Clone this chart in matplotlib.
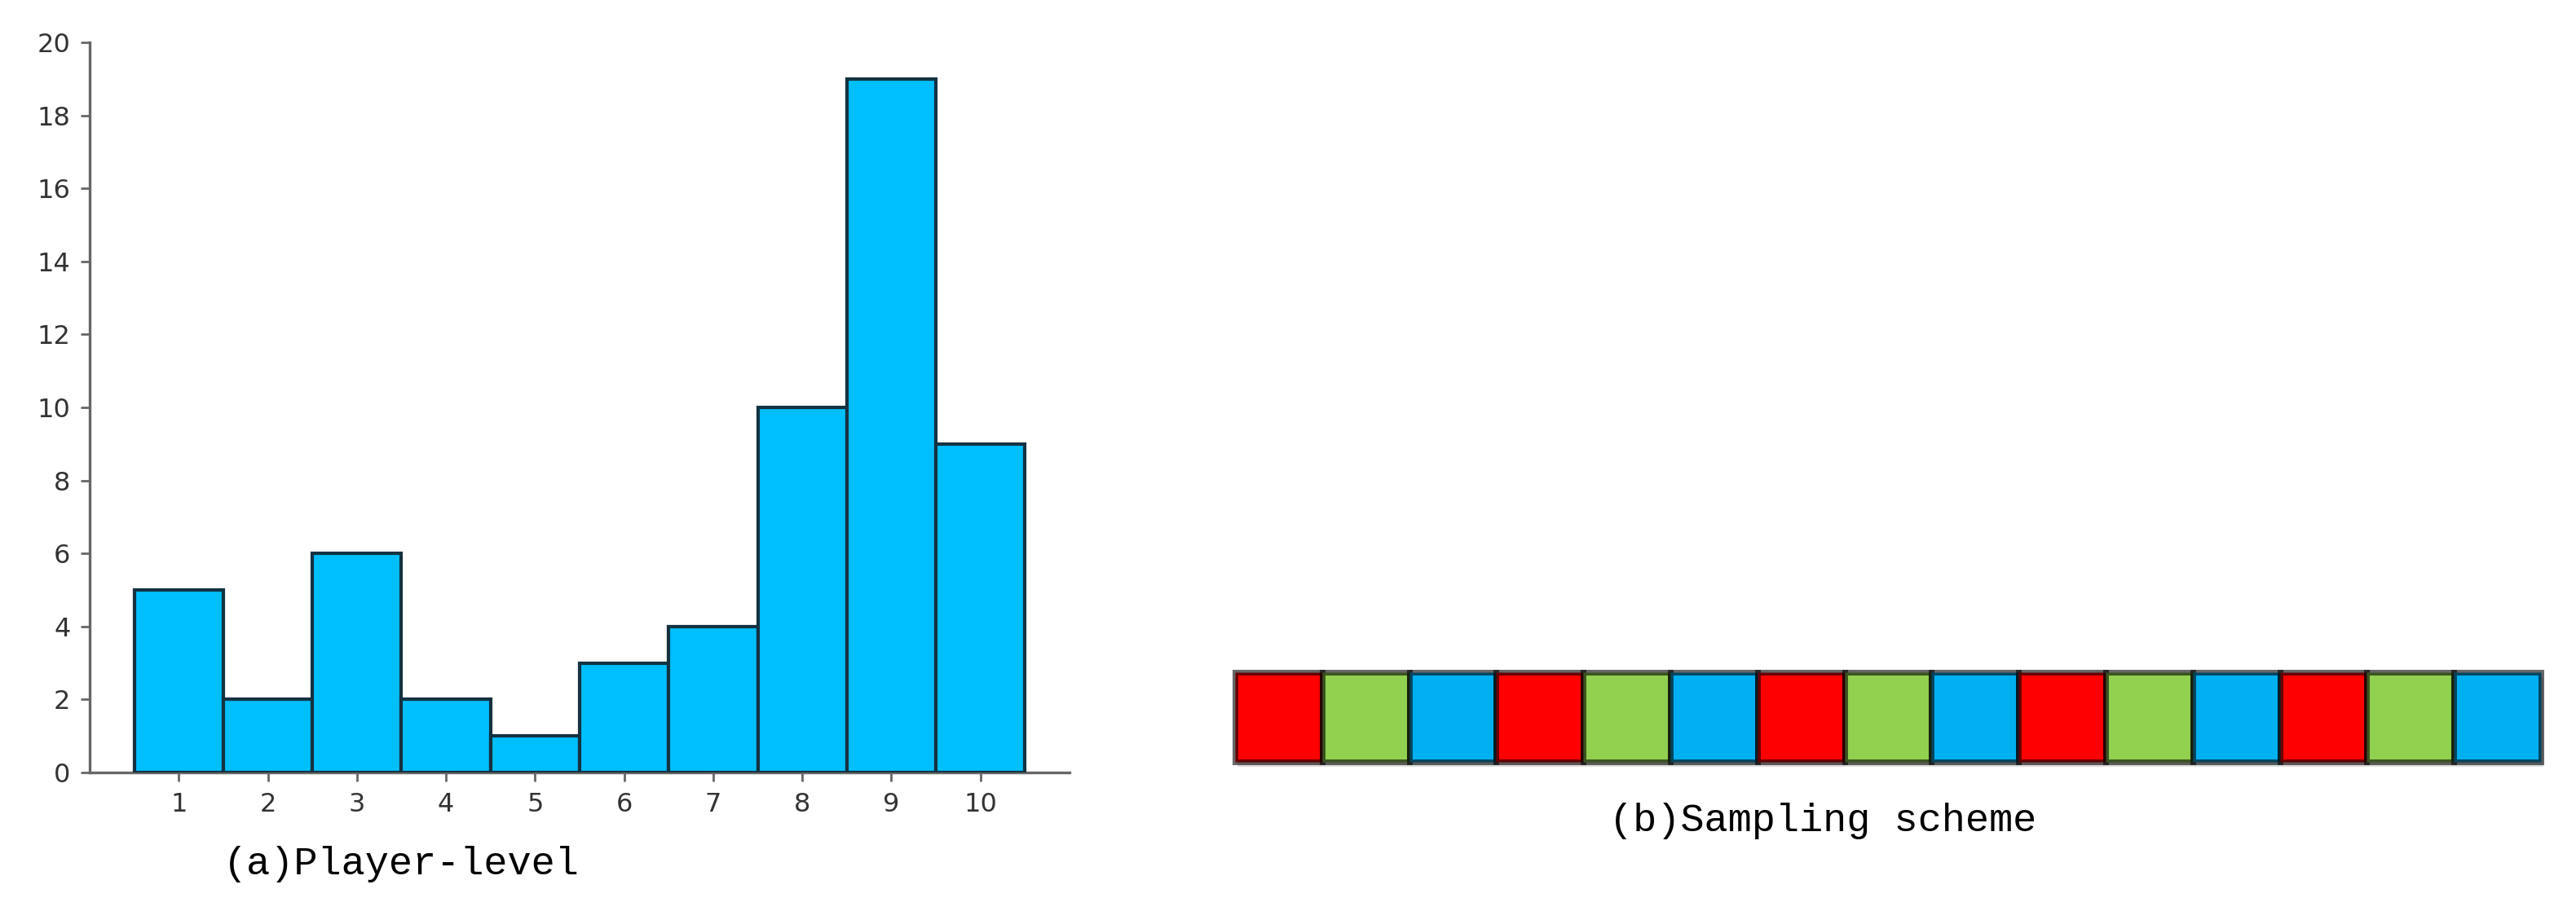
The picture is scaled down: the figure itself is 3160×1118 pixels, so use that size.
import matplotlib
matplotlib.use("Agg")
import matplotlib.pyplot as plt
import matplotlib.patheffects as pe

# histogram data (player level counts)
levels = [1, 2, 3, 4, 5, 6, 7, 8, 9, 10]
counts = [5, 2, 6, 2, 1, 3, 4, 10, 19, 9]
yticks = [0, 2, 4, 6, 8, 10, 12, 14, 16, 18, 20]

# sampling scheme strip
strip_slots = list(range(15))
strip_groups = ['r', 'g', 'b', 'r', 'g', 'b', 'r', 'g', 'b',
                'r', 'g', 'b', 'r', 'g', 'b']
group_colors = {'r': '#FF0000', 'g': '#92D050', 'b': '#00B0F0'}

caption_a = '(a)Player-level'
caption_b = '(b)Sampling scheme'

W, H = 3160, 1118
fig = plt.figure(figsize=(W / 100, H / 100), dpi=100)
fig.patch.set_facecolor('white')

# left panel: histogram
ax = fig.add_axes([110 / W, 1 - 948 / H, (1312 - 110) / W, (948 - 52) / H])
ax.bar(levels, counts, width=1.0, color='#00BFFF', edgecolor='#143241',
       linewidth=3, zorder=3)
ax.set_xlim(0, 11)
ax.set_ylim(0, 20)
ax.set_xticks(levels)
ax.set_yticks(yticks)
for side in ['top', 'right']:
    ax.spines[side].set_visible(False)
for side in ['left', 'bottom']:
    ax.spines[side].set_color('#666666')
    ax.spines[side].set_linewidth(2.4)
ax.tick_params(axis='both', labelsize=23, labelcolor='#333333',
               color='#666666', length=8, width=2)
ax.tick_params(axis='x', pad=9)
ax.tick_params(axis='y', pad=9)

# right panel: sampling strip
ax2 = fig.add_axes([1515 / W, 1 - 935 / H, (3117 - 1515) / W, (935 - 825) / H])
strip = ax2.bar(strip_slots, [1] * len(strip_slots), width=1.0, align='edge',
                color=[group_colors[g] for g in strip_groups],
                edgecolor=(0, 0, 0, 0.6), linewidth=5, clip_on=False)
for p in strip:
    p.set_path_effects([pe.SimplePatchShadow(offset=(2, -4), alpha=0.15),
                        pe.Normal()])
ax2.set_xlim(0, 15)
ax2.set_ylim(0, 1)
ax2.axis('off')

# captions
fig.text(492 / W, 1 - 1073 / H, caption_a, ha='center', va='baseline',
         fontsize=35, family='Liberation Mono', color='black')
fig.text(2236 / W, 1 - 1020 / H, caption_b, ha='center', va='baseline',
         fontsize=35, family='Liberation Mono', color='black')

fig.savefig('out.png', dpi=100, facecolor='white')
